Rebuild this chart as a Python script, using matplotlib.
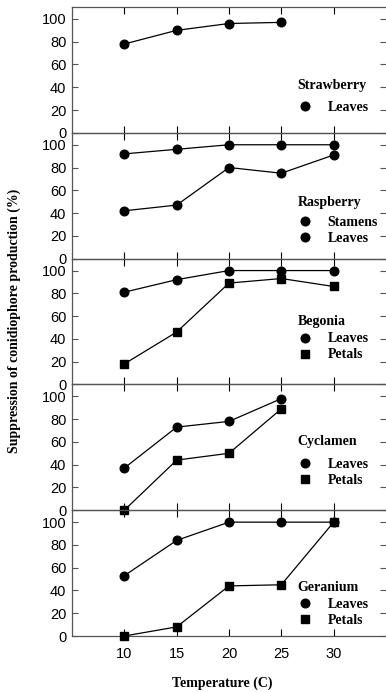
import matplotlib
matplotlib.use("Agg")
import matplotlib.pyplot as plt
from matplotlib.lines import Line2D

temps = [10, 15, 20, 25, 30]

crops = ["Strawberry", "Raspberry", "Begonia", "Cyclamen", "Geranium"]

strawberry_leaves = [78, 90, 96, 97, None]
raspberry_stamens = [92, 96, 100, 100, 100]
raspberry_leaves = [42, 47, 80, 75, 91]
begonia_leaves = [81, 92, 100, 100, 100]
begonia_petals = [18, 46, 89, 93, 86]
cyclamen_leaves = [37, 73, 78, 98, None]
cyclamen_petals = [0, 44, 50, 89, None]
geranium_leaves = [53, 84, 100, 100, 100]
geranium_petals = [0, 8, 44, 45, 100]

panels = [
    ("Strawberry", [("Leaves", strawberry_leaves, "o")]),
    ("Raspberry", [("Stamens", raspberry_stamens, "o"), ("Leaves", raspberry_leaves, "o")]),
    ("Begonia", [("Leaves", begonia_leaves, "o"), ("Petals", begonia_petals, "s")]),
    ("Cyclamen", [("Leaves", cyclamen_leaves, "o"), ("Petals", cyclamen_petals, "s")]),
    ("Geranium", [("Leaves", geranium_leaves, "o"), ("Petals", geranium_petals, "s")]),
]

yticks = [0, 20, 40, 60, 80, 100]
xticks = [10, 15, 20, 25, 30]

W, H = 386, 692
fig = plt.figure(figsize=(W / 100, H / 100), dpi=100)

left = 72 / W
right = 1.0
top_px = 7
bot_px = 636
ph = (bot_px - top_px) / 5

# legend anchor (x, y) in axes fraction for each panel (upper-left of legend box)
leg_anchor = [(0.719, 0.425), (0.719, 0.50), (0.719, 0.55), (0.719, 0.595), (0.719, 0.44)]
title_sep = [6, 5, 3, 7, 3]

serif = {"family": "Liberation Serif", "weight": "bold", "size": 10}
spine_col = "#555555"

for i, (name, series) in enumerate(panels):
    y0 = top_px + i * ph
    ax = fig.add_axes([left, 1 - (y0 + ph) / H, right - left, ph / H])
    handles = []
    for label, vals, mk in series:
        xs = [t for t, v in zip(temps, vals) if v is not None]
        ys = [v for v in vals if v is not None]
        ms = 6.2 if mk == "o" else 5.6
        ax.plot(xs, ys, color="black", lw=0.9, marker=mk,
                markersize=ms, markerfacecolor="black",
                markeredgecolor="black", clip_on=False, zorder=3)
        handles.append(Line2D([], [], linestyle="none", marker=mk, color="black",
                              markersize=ms, label=label))
    ax.set_xlim(5, 35)
    ax.set_ylim(0, 110.5)
    ax.set_yticks(yticks)
    ax.set_xticks(xticks)
    ax.tick_params(axis="y", direction="in", length=4, width=0.8, color=spine_col,
                   right=True, labelsize=10.5, pad=4)
    ax.tick_params(axis="x", direction="in", length=5, width=0.8, color="black",
                   top=True, labelsize=10.5, pad=8)
    for lab in ax.get_yticklabels() + ax.get_xticklabels():
        lab.set_family("Liberation Sans")
    if i < 4:
        ax.tick_params(axis="x", labelbottom=False)
    for s in ["left", "bottom", "top"]:
        ax.spines[s].set_color(spine_col)
        ax.spines[s].set_linewidth(0.9)
    ax.spines["right"].set_visible(False)
    ax.patch.set_alpha(0)
    leg = ax.legend(handles=handles, title=name, loc="upper left",
                    bbox_to_anchor=leg_anchor[i], frameon=False,
                    prop=serif, title_fontproperties=serif, alignment="left",
                    handlelength=1.0, handletextpad=1.15, labelspacing=0.22,
                    borderpad=0.0, borderaxespad=0.0)
    leg._legend_box.sep = title_sep[i]

fig.text(14 / W, 1 - 321 / H, "Suppression of conidiophore production (%)",
         rotation=90, ha="center", va="center", **serif)
fig.text(222 / W, 1 - 683 / H, "Temperature (C)", ha="center", va="center", **serif)

fig.savefig("out.png", dpi=100)
